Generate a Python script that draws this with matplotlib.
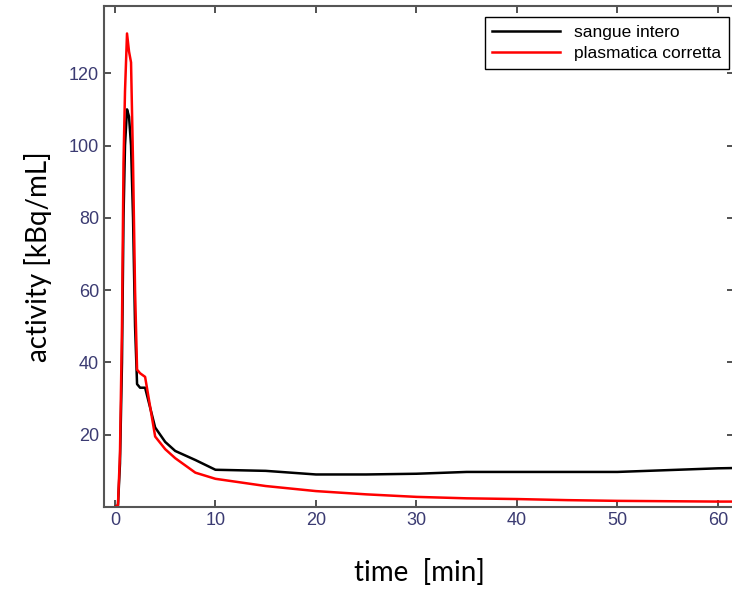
import matplotlib.pyplot as plt
import numpy as np

# curve di attività
t = [0, 0.3, 0.5, 0.7, 0.85, 1.0, 1.2, 1.4, 1.6, 1.8, 2.0, 2.2, 2.5, 3.0,
     4.0, 5.0, 6.0, 8.0, 10, 15, 20, 25, 30, 35, 40, 45, 50, 55, 60, 62]
sangue = [0, 0.5, 12, 40, 80, 100, 110, 108, 100, 80, 50, 34, 33, 33,
          22, 18, 15.5, 13, 10.3, 10.0, 9.0, 9.0, 9.2, 9.7, 9.7, 9.7, 9.7, 10.2, 10.7, 10.8]
plasma = [0, 0.5, 15, 50, 95, 115, 131, 126, 123, 95, 60, 38, 37, 36,
          19.5, 16, 13.5, 9.5, 7.8, 5.8, 4.4, 3.5, 2.8, 2.4, 2.2, 1.9, 1.7, 1.6, 1.5, 1.5]

xticks = [0, 10, 20, 30, 40, 50, 60]
yticks = [20, 40, 60, 80, 100, 120]

fig = plt.figure(figsize=(7.32, 5.91), dpi=100)
ax = fig.add_axes([104/732, 1-507/591, 630/732, 501/591])

ax.plot(t, sangue, color='black', lw=1.8, label='sangue intero')
ax.plot(t, plasma, color='red', lw=1.8, label='plasmatica corretta')

ax.set_xlim(-1.09, 61.6)
ax.set_ylim(0, 138.6)
ax.set_xticks(xticks)
ax.set_yticks(yticks)
ax.tick_params(direction='in', top=True, right=True, length=5, width=1.2,
               color='#333333', labelsize=13, labelcolor='#3b3b72')
for lab in ax.get_xticklabels() + ax.get_yticklabels():
    lab.set_family('Liberation Sans')
for s in ax.spines.values():
    s.set_color('#555555')
    s.set_linewidth(1.5)

ax.set_xlabel('time  [min]', family='Lato', fontsize=20, labelpad=22)
ax.set_ylabel('activity [kBq/mL]', family='Lato', fontsize=20, labelpad=12)

leg = ax.legend(loc='upper right', bbox_to_anchor=(729/732, 1-17/591),
                bbox_transform=fig.transFigure, borderaxespad=0,
                fancybox=False, edgecolor='black', framealpha=1,
                prop={'family': 'Liberation Sans', 'size': 12.5},
                handlelength=3.9, labelspacing=0.35, borderpad=0.45)
leg.get_frame().set_linewidth(1.0)

fig.savefig('out.png', dpi=100)
